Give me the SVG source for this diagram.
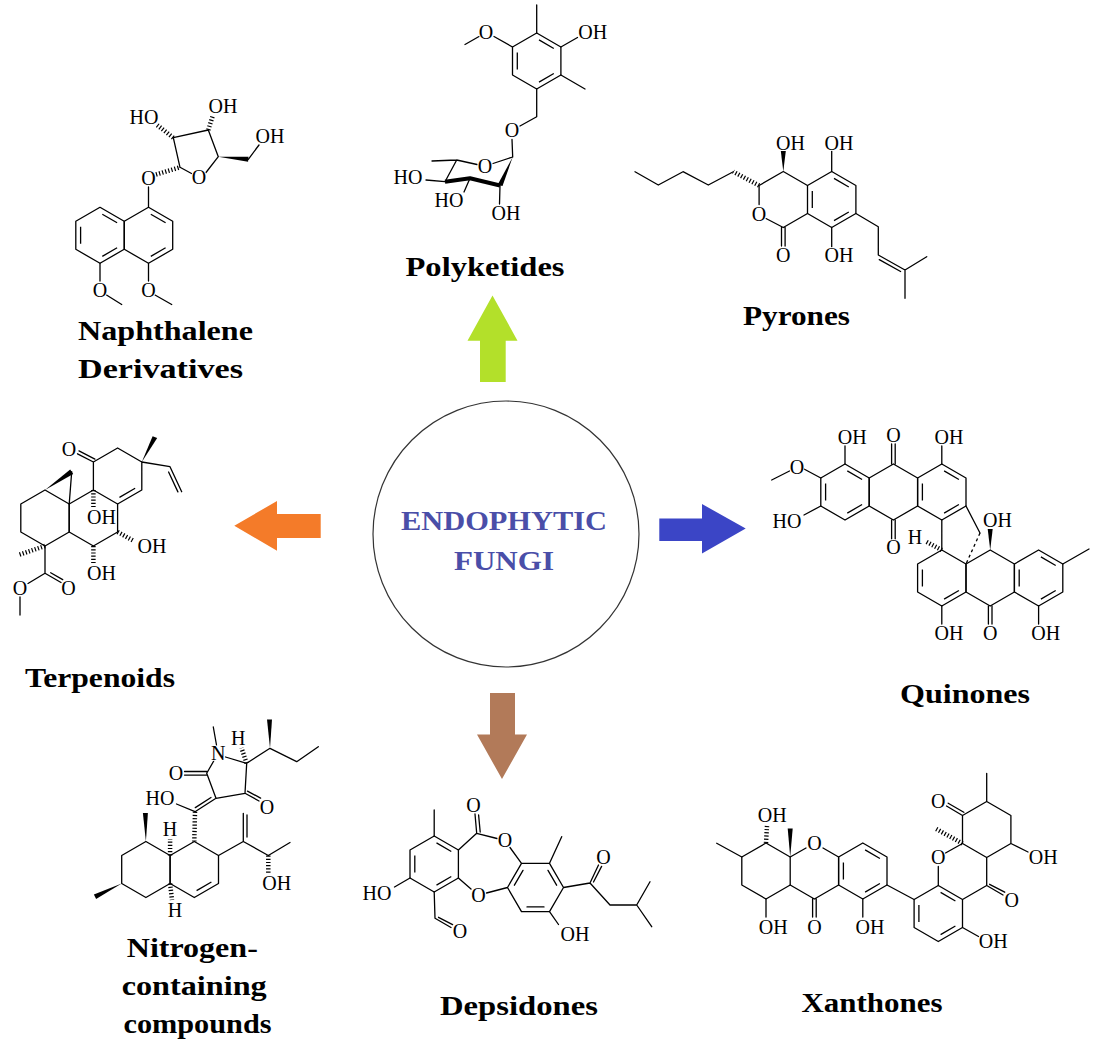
<svg xmlns="http://www.w3.org/2000/svg" xmlns:xlink="http://www.w3.org/1999/xlink" width="1102" height="1053" viewBox="0 0 1102 1053">
<style>
.b{fill:none;stroke:#000;stroke-width:1.3;stroke-linecap:round;stroke-linejoin:round}
.bold{fill:none;stroke:#000;stroke-width:4;stroke-linecap:butt;stroke-linejoin:round}
.h{fill:none;stroke:#000;stroke-width:4.5;stroke-dasharray:1.2 2}
.d{fill:none;stroke:#000;stroke-width:1.3;stroke-dasharray:3 3}
.w{fill:#000;stroke:none}
.a{font-family:"Liberation Serif","Times New Roman",serif;font-size:20px;fill:#000;text-anchor:middle;stroke:#fff;stroke-width:1.5;paint-order:stroke fill}
.lbl{font-family:"Liberation Serif","Times New Roman",serif;font-weight:bold;font-size:28px;fill:#000;text-anchor:middle}
.ctr{font-family:"Liberation Serif","Times New Roman",serif;font-weight:bold;font-size:27px;fill:#4a4ea8;text-anchor:middle}
</style>
<defs>
<path id="hx" d="M0,-28L24.2,-14L24.2,14L0,28L-24.2,14L-24.2,-14Z" fill="none" stroke="#000" stroke-width="1.3" stroke-linejoin="round"/>
<path id="kA" d="M2.3,-21.1L17.1,-12.5M17.1,12.5L2.3,21.1M-19.4,8.5L-19.4,-8.5" fill="none" stroke="#000" stroke-width="1.3"/>
<path id="i1" d="M2.3,-21.1L17.1,-12.5" fill="none" stroke="#000" stroke-width="1.3"/>
<path id="i3" d="M17.1,12.5L2.3,21.1" fill="none" stroke="#000" stroke-width="1.3"/>
<path id="i5" d="M-19.4,8.5L-19.4,-8.5" fill="none" stroke="#000" stroke-width="1.3"/>
</defs>
<rect width="1102" height="1053" fill="#fff"/>

<g id="connectors">
<polygon points="492.5,295.4 517.5,340.7 505.7,340.7 505.7,382 480,382 480,340.7 467.5,340.7" fill="#b3e02a"/>
<polygon points="234.3,525.7 277,501 277,514 320.7,514 320.7,538 277,538 277,550.7" fill="#f47b29"/>
<polygon points="659.3,518.6 702,518.6 702,504 745.7,528.6 702,553.6 702,541 659.3,541" fill="#3b45c6"/>
<polygon points="490,692.9 515,692.9 515,734.6 527,734.6 502,779 477,734.6 490,734.6" fill="#b27a59"/>
</g>

<g id="center">
<circle cx="506" cy="534" r="133" fill="#fff" stroke="#333" stroke-width="1.2"/>
<text class="ctr" x="504" y="530" textLength="206" lengthAdjust="spacingAndGlyphs">ENDOPHYTIC</text>
<text class="ctr" x="504" y="570" textLength="100" lengthAdjust="spacingAndGlyphs">FUNGI</text>
</g>

<g id="naphthalene">
<use href="#hx" x="100" y="235.3"/>
<use href="#hx" x="148.5" y="235.3"/>
<use href="#kA" x="100" y="235.3"/>
<use href="#i1" x="148.5" y="235.3"/>
<use href="#i3" x="148.5" y="235.3"/>
<path class="b" d="M100,263.3V281M106.5,295L121.7,304.5M148.5,263.3V281M155,295L171.7,304.5M148.5,207.3V187M180,167.3L191.5,173.5M206,172.5L218.3,156.7L208.3,130L173.3,137.7L180,167.3M248.3,159.3L259,145"/>
<path class="h" d="M156,174.5L180,167.3M173.3,137.7L157,125M208.3,130L213,115"/>
<polygon class="w" points="218.3,156.7 248.1,161.8 248.5,156.8"/>
<text class="a" x="100" y="297.1">O</text>
<text class="a" x="148.5" y="297.1">O</text>
<text class="a" x="148.5" y="185.1">O</text>
<text class="a" x="199" y="183.6">O</text>
<text class="a" x="144" y="123.9">HO</text>
<text class="a" x="223" y="112.6">OH</text>
<text class="a" x="270" y="142.6">OH</text>
<text class="lbl" x="165.5" y="340" textLength="175" lengthAdjust="spacingAndGlyphs">Naphthalene</text>
<text class="lbl" x="160.5" y="378" textLength="165" lengthAdjust="spacingAndGlyphs">Derivatives</text>
</g>

<g id="polyketides">
<use href="#hx" x="536.7" y="61"/>
<use href="#kA" x="536.7" y="61"/>
<path class="b" d="M536.7,33V5M560.9,47L577.5,37.5M560.9,75L585,89M512.5,47L494,36.5M479,36.5L465,44.5M536.7,89V116.7L520,126M512,139.5L512.7,157M512.7,157L493,163.5M456.7,160L477,164.5M456.7,160L432,161M456.7,160L445,181.7M445,181.7L426,180M470,178.3L464,192M500,185.5L499.5,204"/>
<path class="bold" d="M445,181.7L470,178.3L500,185.5"/>
<polygon class="w" points="512.7,157 497.5,185 502.5,186"/>
<text class="a" x="592.7" y="38.6">OH</text>
<text class="a" x="486" y="38.6">O</text>
<text class="a" x="512" y="136.6">O</text>
<text class="a" x="485" y="172.6">O</text>
<text class="a" x="408" y="183.6">HO</text>
<text class="a" x="449" y="206.6">HO</text>
<text class="a" x="506" y="220.1">OH</text>
<text class="lbl" x="485" y="275.7" textLength="159" lengthAdjust="spacingAndGlyphs">Polyketides</text>
</g>

<g id="pyrones">
<use href="#hx" x="831.7" y="199.5"/>
<use href="#kA" x="831.7" y="199.5"/>
<path class="b" d="M807.5,185.5L783.3,171.5L759.1,185.5V204.5M766,218.5L783.3,227.5L807.5,213.5M781.5,227.5V246M785.1,227.5V246M831.7,171.5V151M831.7,227.5V247M855.9,213.5L878.3,226.7V255L905,270L926.7,256.7M905,270V298.3M879.3,259.6L900.6,271.5M733.3,171.7L708.3,185L683,171.7L658.3,185L635,171.7"/>
<path class="h" d="M759.1,185.5L733.3,171.7"/>
<polygon class="w" points="783.3,171.5 780.8,151 785.8,151"/>
<text class="a" x="759.1" y="220.6">O</text>
<text class="a" x="783.3" y="261.6">O</text>
<text class="a" x="790.5" y="149.6">OH</text>
<text class="a" x="838.9" y="149.6">OH</text>
<text class="a" x="838.9" y="261.6">OH</text>
<text class="lbl" x="796.5" y="325" textLength="107" lengthAdjust="spacingAndGlyphs">Pyrones</text>
</g>

<g id="terpenoids">
<use href="#hx" x="45" y="518"/>
<use href="#hx" x="93.4" y="518"/>
<path class="b" d="M93.4,490V462L117.6,448L141.8,462V490L117.6,504M134.7,488.5L119.9,497.1M71.7,471.7L69.2,504M93.4,462L77.5,453.8M94.9,459.1L79,450.9M141.8,462L170,466.7L181.7,491.7M168.6,472L177.9,491.9M45,546V573.3M45,573.3L61,582.5M50.7,572.7L62.7,579.6M45,573.3L28,583.5M20,597V615"/>
<polygon class="w" points="45,490 70.2,469.5 73.2,473.9"/>
<polygon class="w" points="141.8,462 152.6,436.2 157.2,438"/>
<path class="h" d="M93.4,490V507M117.6,532L134,541M93.4,546V563M45,546L18.3,555"/>
<text class="a" x="69" y="456.1">O</text>
<text class="a" x="101.5" y="523.6">OH</text>
<text class="a" x="152" y="552.6">OH</text>
<text class="a" x="101.5" y="580.1">OH</text>
<text class="a" x="68.5" y="594.6">O</text>
<text class="a" x="20" y="594.6">O</text>
<text class="lbl" x="100" y="687" textLength="150" lengthAdjust="spacingAndGlyphs">Terpenoids</text>
</g>

<g id="quinones">
<use href="#hx" x="845" y="492"/>
<use href="#hx" x="893.4" y="492"/>
<use href="#hx" x="941.8" y="492"/>
<use href="#kA" x="845" y="492"/>
<use href="#kA" x="941.8" y="492"/>
<use href="#hx" x="941.8" y="578"/>
<use href="#hx" x="990.2" y="578"/>
<use href="#hx" x="1038.6" y="578"/>
<use href="#i5" x="941.8" y="578"/>
<use href="#i3" x="941.8" y="578"/>
<use href="#kA" x="1038.6" y="578"/>
<path class="b" d="M845,464V446M820.8,478L804,469M789.5,471L771.7,480M820.8,506L804,515M891.6,464V444M895.2,464V444M891.6,520V539M895.2,520V539M941.8,464V446M941.8,520V550M966,506L980,533M941.8,606V624M988.4,606V624M992,606V624M1062.8,564L1089,549M1038.6,606V624"/>
<path class="d" d="M980,533L966,564"/>
<path class="h" d="M941.8,550L925,541"/>
<polygon class="w" points="990.2,550 987.7,529 992.7,529"/>
<text class="a" x="852.2" y="443.6">OH</text>
<text class="a" x="797" y="474.1">O</text>
<text class="a" x="787" y="528.1">HO</text>
<text class="a" x="893.4" y="441.6">O</text>
<text class="a" x="893.4" y="554.1">O</text>
<text class="a" x="949" y="443.6">OH</text>
<text class="a" x="915" y="543.6">H</text>
<text class="a" x="997.4" y="526.6">OH</text>
<text class="a" x="949" y="639.9">OH</text>
<text class="a" x="990.2" y="639.9">O</text>
<text class="a" x="1045.8" y="639.9">OH</text>
<text class="lbl" x="965" y="703" textLength="130" lengthAdjust="spacingAndGlyphs">Quinones</text>
</g>

<g id="nitrogen">
<use href="#hx" x="145.9" y="869.5"/>
<use href="#hx" x="194.3" y="869.5"/>
<use href="#i3" x="194.3" y="869.5"/>
<path class="b" d="M216.5,745L213.3,727M225.5,757L246.7,763.3L270,748.3L296.7,761.7L318.3,746.7M214,760.5L206.7,773.3L216,798.3L245,793.3L246.7,763.3M206.7,771.5H184.5M206.7,775.1H184.5M245,793.3L259,801M247.5,791.1L260.6,798.1M216,798.3L195,811.7M211,797.5L195.3,807.6M195,811.7L176.5,804M218.5,855.5L243.3,841.5L268.3,855.5L290,842.5M243.3,841.5V813.3M247,837V815"/>
<path class="h" d="M246.7,763.3L241.5,748M195,811.7L194.3,841.5M170.1,855.5V839M170.1,883.5L172,900M268.3,855.5V873"/>
<polygon class="w" points="270,748.3 267,719.5 272,719.5"/>
<polygon class="w" points="145.9,841.5 142.9,813 147.9,813"/>
<polygon class="w" points="121.7,883.5 93.9,894.5 96.1,898.9"/>
<text class="a" x="218.3" y="759.9">N</text>
<text class="a" x="238.3" y="744.9">H</text>
<text class="a" x="176" y="779.9">O</text>
<text class="a" x="267" y="813.6">O</text>
<text class="a" x="160" y="804.9">HO</text>
<text class="a" x="170.1" y="835.6">H</text>
<text class="a" x="175" y="916.6">H</text>
<text class="a" x="276.7" y="889.9">OH</text>
<text class="lbl" x="192.3" y="956.7" textLength="131" lengthAdjust="spacingAndGlyphs">Nitrogen-</text>
<text class="lbl" x="194.2" y="995" textLength="145" lengthAdjust="spacingAndGlyphs">containing</text>
<text class="lbl" x="197.5" y="1033" textLength="148" lengthAdjust="spacingAndGlyphs">compounds</text>
</g>

<g id="depsidones">
<use href="#hx" x="434.2" y="864"/>
<use href="#kA" x="434.2" y="864"/>
<path class="b" d="M434.2,836V810M410,878L394.5,887M434.2,892L435,918.3L451,927.5M438.5,917.3L452.6,924.6M458.4,850L476.7,833.3M476.7,833.3L475,814M480.2,832L478.6,815M476.7,833.3L497,838.5M510,847.5L521.5,863.3M458.4,878L471,889M486.5,893L507.5,887.5M521.5,863.3H549.5L563.5,887.5L549.5,911.7H521.5L507.5,887.5ZM514.4,885.2L523,870.4M548,870.4L556.6,885.2M544,906.9H527M549.5,863.3L561.7,836.7M563.5,887.5L590,883L610,905H636.7L650,881.7M636.7,905L651.7,926.7M590,883L598.5,865M593.5,882L601.6,866.4M549.5,911.7L558.5,924.5"/>
<text class="a" x="377" y="899.9">HO</text>
<text class="a" x="460" y="938.3">O</text>
<text class="a" x="473.5" y="811.6">O</text>
<text class="a" x="505" y="846.6">O</text>
<text class="a" x="478.5" y="901.6">O</text>
<text class="a" x="603.5" y="863.6">O</text>
<text class="a" x="575" y="940.6">OH</text>
<text class="lbl" x="519" y="1015" textLength="158" lengthAdjust="spacingAndGlyphs">Depsidones</text>
</g>

<g id="xanthones">
<use href="#hx" x="766" y="871"/>
<use href="#hx" x="862.8" y="871"/>
<use href="#kA" x="862.8" y="871"/>
<use href="#hx" x="938.3" y="913.5"/>
<use href="#kA" x="938.3" y="913.5"/>
<path class="b" d="M790.2,857L806,848M823,848L838.6,857V885L814.4,899L790.2,885M812.6,899V917M816.2,899V917M862.8,899V917M741.8,857L716.7,843.3M766,899V917M887,885L914.1,899.5M938.3,885.5V866.5M945.5,853L962.5,843.5L986.7,857.5V885.5L962.5,899.5M986.7,885.5L1003,895M989.6,884.3L1004.7,892.2M962.5,843.5V815.5L986.7,801.5L1010.9,815.5V843.5L986.7,857.5M962.5,815.5L946.5,806M963.8,812.3L948.2,803.2M986.7,801.5V773.3M1010.9,843.5L1028,852M962.5,927.5L978.5,936.5"/>
<polygon class="w" points="790.2,857 787.7,828.5 792.7,828.5"/>
<path class="h" d="M766,843L767,826M962.5,843.5L935,828.3"/>
<text class="a" x="814.4" y="849.6">O</text>
<text class="a" x="814.4" y="933.6">O</text>
<text class="a" x="870" y="933.6">OH</text>
<text class="a" x="772.2" y="821.6">OH</text>
<text class="a" x="773.2" y="933.6">OH</text>
<text class="a" x="938.3" y="864.1">O</text>
<text class="a" x="1011.7" y="906.6">O</text>
<text class="a" x="938.3" y="808.3">O</text>
<text class="a" x="1043.3" y="863.6">OH</text>
<text class="a" x="993.3" y="948.3">OH</text>
<text class="lbl" x="872" y="1011.7" textLength="141" lengthAdjust="spacingAndGlyphs">Xanthones</text>
</g>
</svg>
